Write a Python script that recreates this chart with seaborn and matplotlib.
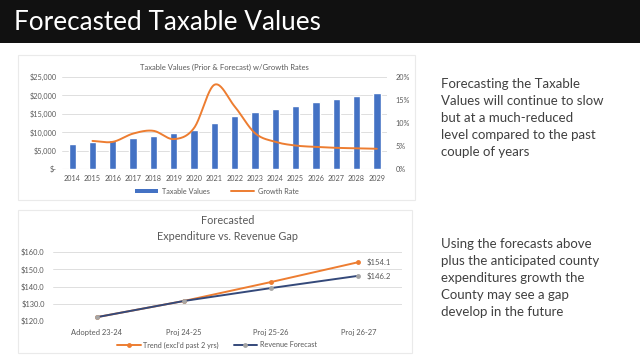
import numpy as np
import pandas as pd
import matplotlib
matplotlib.use("Agg")
import matplotlib.pyplot as plt
import seaborn as sns
from matplotlib.patches import Rectangle, Patch
from matplotlib.lines import Line2D
from matplotlib.ticker import FuncFormatter

# ---------------- data ----------------
years = ["2014", "2015", "2016", "2017", "2018", "2019", "2020", "2021",
         "2022", "2023", "2024", "2025", "2026", "2027", "2028", "2029"]
taxable_values = [6900, 7300, 7800, 8400, 9100, 9700, 10600, 12600,
                  14400, 15500, 16400, 17200, 18100, 19000, 19800, 20700]
growth_years = years[1:]
growth_rate = [6.1, 5.9, 7.7, 8.3, 6.5, 8.9, 18.3, 13.6,
               7.8, 5.9, 5.1, 4.8, 4.6, 4.5, 4.4]

periods = ["Adopted 23-24", "Proj 24-25", "Proj 25-26", "Proj 26-27"]
trend = [122.2, 131.6, 142.6, 154.1]
revenue = [122.2, 131.6, 139.1, 146.2]

slide_title = "Forecasted Taxable Values"
text1 = ("Forecasting the Taxable\nValues will continue to slow\nbut at a much-reduced\n"
         "level compared to the past\ncouple of years")
text2 = ("Using the forecasts above\nplus the anticipated county\nexpenditures growth the\n"
         "County may see a gap\ndevelop in the future")

BLUE = "#4472C4"
ORANGE = "#ED7D31"
NAVY = "#34497A"
GRAYM = "#A5A5A5"
TXT = "#595959"
GRID = "#D9D9D9"

sns.set_theme(style="white")
plt.rcParams['font.family'] = ['Lato', 'DejaVu Sans']

W, H = 640, 360
fig = plt.figure(figsize=(6.4, 3.6), dpi=100)
fig.patch.set_facecolor("white")

def ax_px(x0, y0, x1, y1):
    a = fig.add_axes([x0 / W, 1 - y1 / H, (x1 - x0) / W, (y1 - y0) / H])
    a.set_facecolor("none")
    a.set_zorder(2)
    return a

# title bar
fig.patches.append(Rectangle((0, 1 - 43 / H), 1, 43 / H, transform=fig.transFigure,
                             facecolor="#111111", edgecolor="none", zorder=-2))
fig.text(14 / W, 1 - 22 / H, slide_title, color="white", fontsize=18.8, va="center",
         ha="left")

# panel borders
for (x0, y0, x1, y1) in [(18, 55, 415, 200), (18, 210, 412, 353)]:
    fig.patches.append(Rectangle((x0 / W, 1 - y1 / H), (x1 - x0) / W, (y1 - y0) / H,
                                 transform=fig.transFigure, facecolor="white",
                                 edgecolor="#EAEAEA", lw=0.8, zorder=-1))

# ---------------- top chart ----------------
ax = ax_px(62, 77, 387, 169)
df_top = pd.DataFrame({"year": years, "value": taxable_values})
sns.barplot(data=df_top, x="year", y="value", color=BLUE, width=0.36, ax=ax,
            saturation=1, zorder=2)
ax.set_ylim(0, 25000)
ax.set_xlim(-0.5, len(years) - 0.5)
ax.set_yticks(range(0, 25001, 5000))
ax.yaxis.set_major_formatter(FuncFormatter(lambda v, p: "$-" if v == 0 else f"${v:,.0f}"))
ax.grid(axis="y", color=GRID, lw=0.6, zorder=0)
ax.set_axisbelow(True)
for s in ax.spines.values():
    s.set_visible(False)
ax.axhline(0, color=GRID, lw=0.8, zorder=1)
ax.set_xlabel("")
ax.set_ylabel("")
ax.tick_params(axis="both", length=0, labelsize=5.2, labelcolor=TXT, pad=4)

ax2 = ax.twinx()
ax2.set_facecolor("none")
ax2.set_ylim(0, 20)
ax2.set_yticks(range(0, 21, 5))
ax2.yaxis.set_major_formatter(FuncFormatter(lambda v, p: f"{v:.0f}%"))
ax2.tick_params(axis="y", length=0, labelsize=5.2, labelcolor=TXT, pad=6)
for s in ax2.spines.values():
    s.set_visible(False)
ax2.grid(False)

def catmull_rom(xs, ys, n=24):
    xs = np.asarray(xs, float); ys = np.asarray(ys, float)
    px = np.concatenate([[2 * xs[0] - xs[1]], xs, [2 * xs[-1] - xs[-2]]])
    py = np.concatenate([[2 * ys[0] - ys[1]], ys, [2 * ys[-1] - ys[-2]]])
    outx, outy = [], []
    t = np.linspace(0, 1, n, endpoint=False)
    for i in range(1, len(px) - 2):
        p0, p1, p2, p3 = (np.array([px[j], py[j]]) for j in (i - 1, i, i + 1, i + 2))
        pts = 0.5 * ((2 * p1)[None, :] + (-p0 + p2)[None, :] * t[:, None]
                     + (2 * p0 - 5 * p1 + 4 * p2 - p3)[None, :] * (t ** 2)[:, None]
                     + (-p0 + 3 * p1 - 3 * p2 + p3)[None, :] * (t ** 3)[:, None])
        outx.extend(pts[:, 0]); outy.extend(pts[:, 1])
    outx.append(xs[-1]); outy.append(ys[-1])
    return np.array(outx), np.array(outy)

gx = [years.index(y) for y in growth_years]
sx, sy = catmull_rom(gx, growth_rate)
ax2.plot(sx, sy, color=ORANGE, lw=1.4, zorder=3)

ax.set_title("Taxable Values (Prior & Forecast) w/Growth Rates", fontsize=5.5,
             color=TXT, pad=5)
handles = [Patch(facecolor=BLUE, edgecolor="none"),
           Line2D([0], [0], color=ORANGE, lw=1.4)]
fig.legend(handles, ["Taxable Values", "Growth Rate"], loc="center",
           bbox_to_anchor=(217 / W, 1 - 191 / H), ncol=2, frameon=False,
           fontsize=5.2, labelcolor=TXT, handlelength=3.2, handleheight=0.5,
           columnspacing=3, handletextpad=0.5)

# ---------------- bottom chart ----------------
bx = ax_px(53, 252, 402, 321)
df_b = pd.DataFrame({
    "period": periods * 2,
    "value": trend + revenue,
    "series": ["Trend (excl'd past 2 yrs)"] * 4 + ["Revenue Forecast"] * 4,
})
pos = {p: i for i, p in enumerate(periods)}
df_b["pos"] = df_b["period"].map(pos)
sns.lineplot(data=df_b[df_b.series.str.startswith("Trend")], x="pos", y="value",
             color=ORANGE, lw=1.4, marker="o", markersize=3.5, markeredgewidth=0,
             ax=bx, zorder=3)
sns.lineplot(data=df_b[df_b.series == "Revenue Forecast"], x="pos", y="value",
             color=NAVY, lw=1.4, marker="o", markersize=3.5, markerfacecolor=GRAYM,
             markeredgewidth=0, ax=bx, zorder=4)
bx.set_xlim(-0.5, len(periods) - 0.5)
bx.set_ylim(120, 160)
bx.set_yticks(range(120, 161, 10))
bx.yaxis.set_major_formatter(FuncFormatter(lambda v, p: f"${v:.1f}"))
bx.set_xticks(range(len(periods)))
bx.set_xticklabels(periods)
bx.grid(axis="y", color=GRID, lw=0.6, zorder=0)
bx.set_axisbelow(True)
for s in bx.spines.values():
    s.set_visible(False)
bx.set_xlabel(""); bx.set_ylabel("")
bx.tick_params(axis="both", length=0, labelsize=5.4, labelcolor=TXT, pad=6)
bx.set_title("Forecasted\nExpenditure vs. Revenue Gap", fontsize=7.8, color=TXT,
             pad=9, linespacing=1.45)
for vals in (trend, revenue):
    bx.annotate(f"${vals[-1]:.1f}", (len(periods) - 1, vals[-1]), xytext=(6, 0),
                textcoords="offset points", va="center", ha="left", fontsize=5.6,
                color=TXT)
bh = [Line2D([0], [0], color=ORANGE, lw=1.4, marker="o", markersize=3.5, markeredgewidth=0),
      Line2D([0], [0], color=NAVY, lw=1.4, marker="o", markersize=3.5,
             markerfacecolor=GRAYM, markeredgewidth=0)]
fig.legend(bh, ["Trend (excl'd past 2 yrs)", "Revenue Forecast"], loc="center",
           bbox_to_anchor=(217 / W, 1 - 345 / H), ncol=2, frameon=False,
           fontsize=5.2, labelcolor=TXT, handlelength=3.2, columnspacing=2,
           handletextpad=0.4)

# ---------------- right text ----------------
fig.text(441 / W, 1 - 78 / H, text1, fontsize=9.5, color="#404040", va="top",
         ha="left", linespacing=1.5)
fig.text(441 / W, 1 - 238 / H, text2, fontsize=9.5, color="#404040", va="top",
         ha="left", linespacing=1.5)

fig.savefig("out.png", dpi=100)
